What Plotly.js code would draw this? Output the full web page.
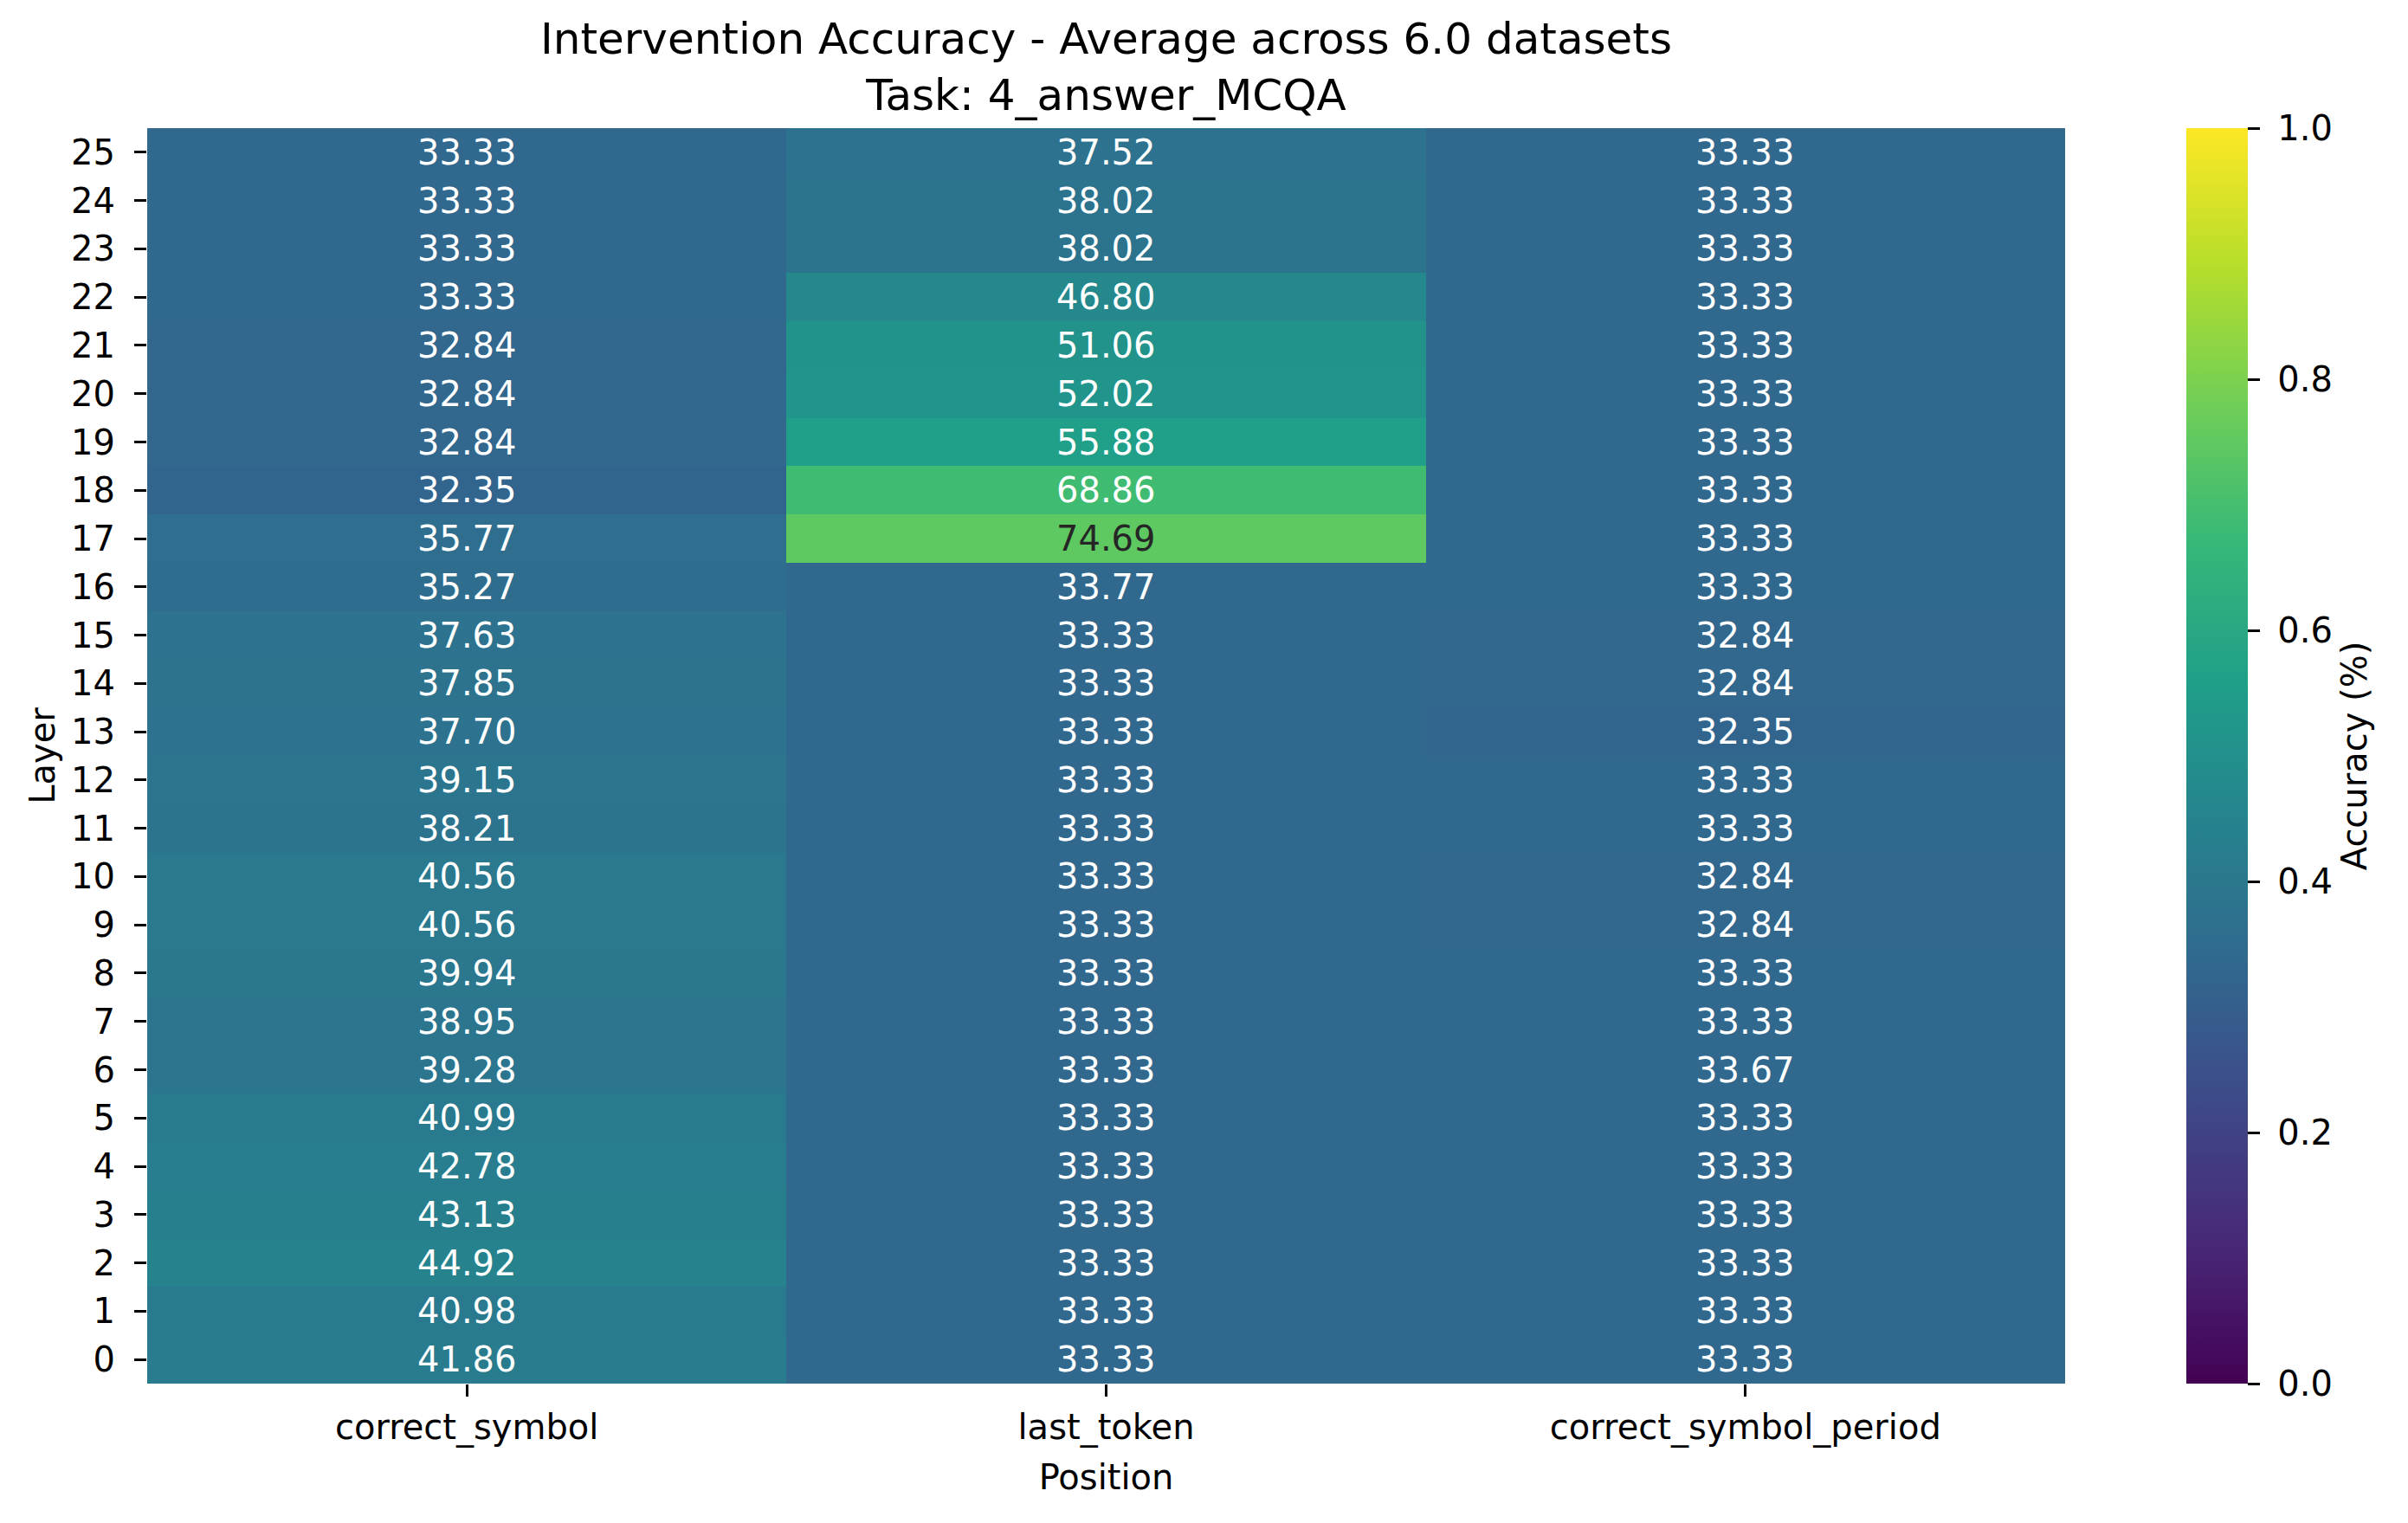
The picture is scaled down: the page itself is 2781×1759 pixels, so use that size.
<!DOCTYPE html>
<html>
<head>
<meta charset="utf-8">
<script src="https://cdn.plot.ly/plotly-3.0.1.min.js"></script>
<style>html,body{margin:0;padding:0;background:#fff;}</style>
</head>
<body>
<div id="chart" style="width:2781px;height:1759px;"></div>
<script>
// ---- data ----
var positions = ["correct_symbol", "last_token", "correct_symbol_period"];
var layers = [0,1,2,3,4,5,6,7,8,9,10,11,12,13,14,15,16,17,18,19,20,21,22,23,24,25];
// accuracy (%) per layer 0..25
var correctSymbol = [41.86,40.98,44.92,43.13,42.78,40.99,39.28,38.95,39.94,40.56,40.56,38.21,39.15,37.70,37.85,37.63,35.27,35.77,32.35,32.84,32.84,32.84,33.33,33.33,33.33,33.33];
var lastToken = [33.33,33.33,33.33,33.33,33.33,33.33,33.33,33.33,33.33,33.33,33.33,33.33,33.33,33.33,33.33,33.33,33.77,74.69,68.86,55.88,52.02,51.06,46.80,38.02,38.02,37.52];
var correctSymbolPeriod = [33.33,33.33,33.33,33.33,33.33,33.33,33.67,33.33,33.33,32.84,32.84,33.33,33.33,32.35,32.84,32.84,33.33,33.33,33.33,33.33,33.33,33.33,33.33,33.33,33.33,33.33];
var colorbarTicks = [0, 0.2, 0.4, 0.6, 0.8, 1.0];

var series = [correctSymbol, lastToken, correctSymbolPeriod];
var z = layers.map(function(l, i){ return series.map(function(s){ return s[i] / 100; }); });

var FONT = "DejaVu Sans, sans-serif";
var annotations = [];
layers.forEach(function(l, i){
  positions.forEach(function(p, j){
    var v = series[j][i];
    annotations.push({
      x: p, y: l, xref: 'x', yref: 'y', showarrow: false,
      text: v.toFixed(2),
      font: {family: FONT, size: 40, color: (v / 100 > 0.72) ? '#262626' : '#ffffff'}
    });
  });
});

var viridis = [
  [0.0,'#440154'],[0.1111,'#482878'],[0.2222,'#3e4989'],[0.3333,'#31688e'],[0.4444,'#26828e'],
  [0.5556,'#1f9e89'],[0.6667,'#35b779'],[0.7778,'#6ece58'],[0.8889,'#b5de2b'],[1.0,'#fde725']
];

var trace = {
  type: 'heatmap', x: positions, y: layers, z: z,
  zmin: 0, zmax: 1, colorscale: viridis, hoverinfo: 'skip',
  xgap: 0, ygap: 0,
  colorbar: {
    x: 1.0632, xanchor: 'left', xpad: 0, ypad: 0,
    y: 0.5, yanchor: 'middle', len: 1, lenmode: 'fraction',
    thickness: 71, outlinewidth: 0,
    tickvals: colorbarTicks, ticktext: colorbarTicks.map(function(t){ return '\u00a0' + t.toFixed(1); }),
    ticks: 'outside', ticklen: 14, tickwidth: 3, tickcolor: '#000',
    tickfont: {family: FONT, size: 40, color: '#000'},
    title: {text: '\u00a0Accuracy (%)', side: 'right', font: {family: FONT, size: 40, color: '#000'}}
  }
};

var layout = {
  width: 2781, height: 1759,
  margin: {l: 170, r: 396, t: 148, b: 161, pad: 0},
  paper_bgcolor: '#fff', plot_bgcolor: '#fff',
  title: {
    text: 'Intervention Accuracy - Average across 6.0 datasets<br>Task: 4_answer_MCQA',
    font: {family: FONT, size: 50, color: '#000'},
    x: 0.5, xanchor: 'center', xref: 'paper',
    y: 0.9645, yanchor: 'middle', yref: 'container'
  },
  xaxis: {
    type: 'category', automargin: false, showgrid: false, zeroline: false, showline: false,
    ticks: 'outside', ticklen: 14, tickwidth: 3, tickcolor: '#000',
    ticklabelstandoff: 1,
    tickfont: {family: FONT, size: 40, color: '#000'},
    title: {text: 'Position', standoff: 20, font: {family: FONT, size: 40, color: '#000'}}
  },
  yaxis: {
    automargin: false, showgrid: false, zeroline: false, showline: false,
    range: [-0.5, 25.5], tickvals: layers, ticktext: layers.map(String),
    ticks: 'outside', ticklen: 14, tickwidth: 3, tickcolor: '#000',
    ticklabelstandoff: 14,
    tickfont: {family: FONT, size: 40, color: '#000'},
    title: {text: 'Layer', standoff: 6, font: {family: FONT, size: 40, color: '#000'}}
  },
  annotations: annotations,
  showlegend: false
};

Plotly.newPlot('chart', [trace], layout, {displayModeBar: false, staticPlot: true});
</script>
</body>
</html>
